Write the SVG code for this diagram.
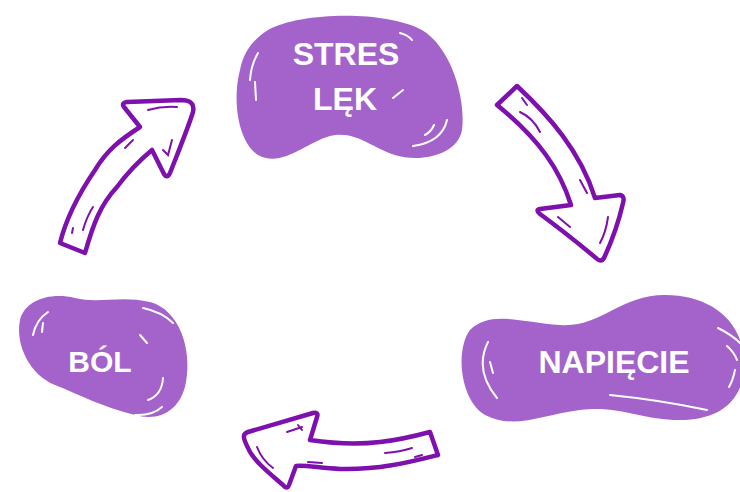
<svg xmlns="http://www.w3.org/2000/svg" width="740" height="492" viewBox="0 0 740 492">
<style>
.blob{fill:#a463cb;}
.hl{fill:none;stroke:#ffffff;stroke-width:2;stroke-linecap:round;}
.arrow{fill:#ffffff;stroke:#7e10ad;stroke-width:4.5;stroke-linejoin:round;}
.ahl{fill:none;stroke:#7e10ad;stroke-width:2;stroke-linecap:round;}
.lbl{font-family:"Liberation Sans","DejaVu Sans",sans-serif;font-weight:bold;fill:#ffffff;text-anchor:middle;}
</style>
<rect width="740" height="492" fill="#ffffff"/>
<g id="stres">
<path class="blob" d="M268,30 C300,12 385,10 422,30 C452,48 466,100 462,130 C458,155 420,163 395,155 C370,147 355,130 330,136 C305,143 282,168 258,155 C238,142 232,100 240,70 C244,50 255,38 268,30 Z"/>
<path class="hl" d="M258,53 Q251,65 250,80 M255,82 L256,100 M400,33 Q408,35 412,40 M393,98 L403,90 M447,120 Q442,142 413,146 M434,125 Q431,132 425,135"/>
<text class="lbl" x="346" y="65" font-size="32">STRES</text>
<text class="lbl" x="345" y="110" font-size="32">LĘK</text>
</g>
<g id="napiecie">
<path class="blob" d="M470,330 C490,310 520,322 560,325 C600,328 620,295 665,295 C710,295 742,320 744,360 C746,400 720,420 680,420 C640,420 620,405 580,410 C540,415 515,430 485,415 C460,400 455,350 470,330 Z"/>
<path class="hl" d="M488,342 Q474,370 497,398 M490,362 L493,373 M610,395 Q660,400 707,410 M718,328 Q732,335 740,343 M727,346 Q734,352 737,360 M735,370 Q733,380 729,387"/>
<text class="lbl" x="614" y="373" font-size="32">NAPIĘCIE</text>
</g>
<g id="bol">
<path class="blob" d="M20,320 C25,300 50,292 75,298 C100,304 120,295 150,302 C180,310 192,350 186,382 C181,410 160,422 135,415 C105,408 80,395 55,385 C30,375 15,345 20,320 Z"/>
<path class="hl" d="M48,312 Q36,320 33,335 M43,323 L42,332 M143,308 Q162,312 173,323 M140,335 L147,343 M163,378 Q162,395 148,400 M162,407 Q152,416 135,415"/>
<text class="lbl" x="100" y="372" font-size="30">BÓL</text>
</g>
<g id="connectors">
<g id="arrow-right">
<path class="arrow" d="M497,105 L517,86 C548,115 580,150 595,198 L620,195 Q625,196 623,203 C618,225 610,245 604,258 Q601,263 596,258 C578,243 555,225 540,214 Q535,210 540,209 L571,205 C560,170 540,140 497,105 Z"/>
<path class="ahl" d="M522,98 L527,105 M520,112 Q533,118 540,132 M580,180 L587,193 M558,217 L570,227 M608,217 Q606,232 600,243"/>
</g>
<g id="arrow-bottom">
<path class="arrow" d="M430,432 L438,455 C410,462 380,470 340,469 C320,468 305,465 296,466 L289,485 Q287,490 283,485 C268,472 253,460 248,448 C243,438 242,434 248,432 L313,413 Q319,412 317,417 L310,440 C330,443 355,445 380,442 C400,440 415,436 430,432 Z"/>
<path class="ahl" d="M287,432 L302,427 M298,425 L302,430 M257,447 Q262,460 273,468 M308,462 L322,463 M385,453 Q400,452 412,448 M415,457 L422,455"/>
</g>
<g id="arrow-left">
<path class="arrow" d="M60,243 L85,253 C93,225 100,205 117,187 C128,172 140,160 152,150 L164,174 Q167,179 170,173 C179,150 188,128 193,112 C195,102 188,100 181,100 L127,102 Q121,103 124,107 L140,127 C120,140 107,150 95,170 C80,192 67,215 60,243 Z"/>
<path class="ahl" d="M148,110 Q162,106 177,107 M125,148 L133,140 M163,150 L168,155 L172,140 M83,230 Q87,216 93,207 M72,233 L73,228"/>
</g>
</g>
</svg>
